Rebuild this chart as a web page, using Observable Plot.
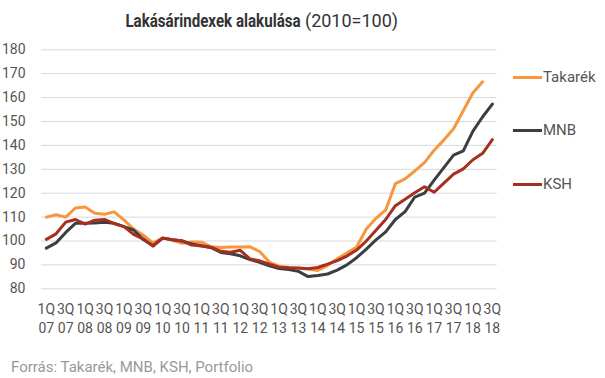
<!DOCTYPE html>
<html>
<head>
<meta charset="utf-8">
<script src="https://cdn.jsdelivr.net/npm/d3@7"></script>
<script src="https://cdn.jsdelivr.net/npm/@observablehq/plot@0.6"></script>
<style>
  html, body { margin: 0; padding: 0; background: #fff; }
  body { width: 605px; height: 378px; position: relative; overflow: hidden; font-family: Roboto, "Open Sans", sans-serif; }
  #title { position: absolute; left: 0; top: 10px; width: 520px; text-align: center; font-size: 18px; color: #333; white-space: nowrap; }
  #title b { display: inline-block; font-weight: 700; transform: scaleX(0.84); transform-origin: right center; margin-left: -30px; }
  #chart { position: absolute; left: 0; top: 38px; }
  #legend { position: absolute; left: 513px; top: 0; }
  .li { position: absolute; left: 0; white-space: nowrap; font-size: 15px; color: #555; }
  .li span.sw { display: inline-block; width: 29px; height: 3px; vertical-align: middle; margin-right: 1px; position: relative; top: -1px; }
  #footer { position: absolute; left: 11px; top: 358px; font-size: 15px; color: #999; white-space: nowrap; }
</style>
</head>
<body>
<div id="title"><b>Lakásárindexek alakulása</b> (2010=100)</div>
<div id="chart"></div>
<div id="legend"></div>
<div id="footer">Forrás: Takarék, MNB, KSH, Portfolio</div>
<script>
const quarters = [
  "1Q 07","2Q 07","3Q 07","4Q 07","1Q 08","2Q 08","3Q 08","4Q 08",
  "1Q 09","2Q 09","3Q 09","4Q 09","1Q 10","2Q 10","3Q 10","4Q 10",
  "1Q 11","2Q 11","3Q 11","4Q 11","1Q 12","2Q 12","3Q 12","4Q 12",
  "1Q 13","2Q 13","3Q 13","4Q 13","1Q 14","2Q 14","3Q 14","4Q 14",
  "1Q 15","2Q 15","3Q 15","4Q 15","1Q 16","2Q 16","3Q 16","4Q 16",
  "1Q 17","2Q 17","3Q 17","4Q 17","1Q 18","2Q 18","3Q 18"
];
const tickLabels = [
  "1Q 07","3Q 07","1Q 08","3Q 08","1Q 09","3Q 09","1Q 10","3Q 10",
  "1Q 11","3Q 11","1Q 12","3Q 12","1Q 13","3Q 13","1Q 14","3Q 14",
  "1Q 15","3Q 15","1Q 16","3Q 16","1Q 17","3Q 17","1Q 18","3Q 18"
];
const yTicks = [80, 90, 100, 110, 120, 130, 140, 150, 160, 170, 180];
const seriesNames = ["Takarék", "MNB", "KSH"];
const seriesColors = ["#F7963F", "#3A3E45", "#A5301F"];

const takarek = [110.0, 111.0, 110.0, 113.8, 114.2, 111.6, 111.2, 112.2,
  108.8, 105.0, 102.4, 99.2, 101.2, 100.4, 99.0, 99.6,
  99.5, 97.6, 97.3, 97.5, 97.5, 97.6, 95.6, 91.2,
  89.4, 88.9, 88.6, 88.3, 87.7, 89.7, 92.6, 95.0,
  97.5, 105.0, 109.5, 113.0, 124.0, 126.0, 129.3, 132.8,
  138.0, 142.3, 147.0, 154.5, 162.0, 166.6, null];
const mnb = [97.0, 99.2, 103.6, 107.4, 107.4, 107.5, 107.8, 107.4,
  106.0, 104.6, 100.6, 98.0, 101.2, 100.5, 100.0, 98.8,
  98.0, 97.2, 95.2, 94.7, 93.8, 92.2, 91.1, 89.6,
  88.5, 88.1, 87.3, 85.1, 85.6, 86.2, 87.8, 90.0,
  93.0, 96.6, 100.5, 103.8, 109.0, 112.3, 118.4, 120.0,
  125.5, 130.7, 135.9, 137.7, 146.0, 152.0, 157.3];
const ksh = [100.7, 103.0, 107.9, 109.0, 107.1, 108.7, 109.0, 107.3,
  106.0, 102.8, 100.8, 97.9, 101.3, 100.5, 100.1, 98.3,
  97.9, 97.4, 95.7, 95.3, 96.1, 92.5, 91.7, 90.3,
  89.0, 88.8, 88.7, 88.4, 88.9, 90.3, 91.8, 93.7,
  96.2, 100.0, 104.5, 109.0, 114.8, 117.5, 120.2, 122.7,
  120.4, 124.2, 128.0, 130.2, 134.0, 136.7, 142.4];

const seriesValues = [takarek, mnb, ksh];
const rows = [];
seriesNames.forEach((name, s) => {
  seriesValues[s].forEach((v, i) => {
    if (v != null) rows.push({series: name, q: quarters[i], v});
  });
});

const plot = Plot.plot({
  width: 605,
  height: 300,
  marginLeft: 41,
  marginRight: 108.3,
  marginTop: 11.3,
  marginBottom: 49.7,
  style: {fontFamily: "Roboto, sans-serif", fontSize: "14px", color: "#555", background: "transparent"},
  x: {type: "point", domain: quarters, padding: 0.5},
  y: {domain: [80, 180]},
  color: {domain: seriesNames, range: seriesColors},
  marks: [
    Plot.ruleY(yTicks, {stroke: "#d9d9d9", strokeWidth: 1}),
    Plot.axisY({ticks: yTicks, tickSize: 0, tickPadding: 16, fontSize: 14, label: null}),
    Plot.axisX({ticks: tickLabels, tickSize: 0, tickPadding: 12, fontSize: 14, label: null,
      tickFormat: d => d.replace(" ", "\n"), lineHeight: 1.35}),
    Plot.line(rows, {x: "q", y: "v", z: "series", stroke: "series", strokeWidth: 3})
  ]
});
document.getElementById("chart").appendChild(plot);

const legend = document.getElementById("legend");
const legendTops = [68, 121, 175];
seriesNames.forEach((name, i) => {
  const div = document.createElement("div");
  div.className = "li";
  div.style.top = legendTops[i] + "px";
  div.innerHTML = `<span class="sw" style="background:${seriesColors[i]}"></span>${name}`;
  legend.appendChild(div);
});
</script>
</body>
</html>
